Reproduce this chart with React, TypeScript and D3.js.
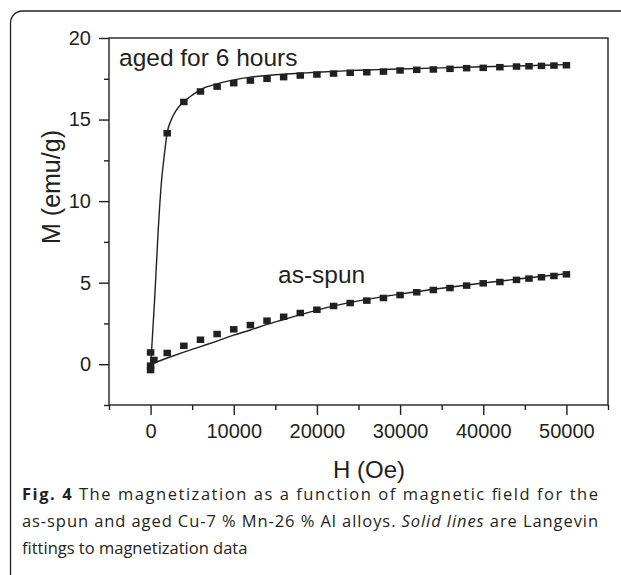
import React, { useEffect, useRef } from "react";
import * as d3 from "d3";

// measured points, aged for 6 hours
const agedH = [0, 2000, 4000, 6000, 8000, 10000, 12000, 14000, 16000, 18000, 20000, 22000, 24000, 26000, 28000, 30000, 32000, 34000, 36000, 38000, 40000, 42000, 44000, 45500, 47000, 48500, 50000];
const agedM = [0.72, 14.16, 16.08, 16.72, 17.02, 17.23, 17.39, 17.5, 17.6, 17.7, 17.76, 17.82, 17.87, 17.9, 17.94, 18.01, 18.05, 18.07, 18.11, 18.15, 18.17, 18.21, 18.25, 18.27, 18.29, 18.31, 18.33];

// measured points, as-spun
const spunH = [0, 0, 400, 2000, 4000, 6000, 8000, 10000, 12000, 14000, 16000, 18000, 20000, 22000, 24000, 26000, 28000, 30000, 32000, 34000, 36000, 38000, 40000, 42000, 44000, 45500, 47000, 48500, 50000];
const spunM = [-0.09, -0.36, 0.26, 0.69, 1.13, 1.5, 1.85, 2.14, 2.4, 2.67, 2.91, 3.14, 3.34, 3.57, 3.75, 3.9, 4.06, 4.24, 4.41, 4.55, 4.67, 4.82, 4.96, 5.04, 5.17, 5.25, 5.33, 5.41, 5.51];

// Langevin fit curves
const agedFitH = [0, 120, 500, 915, 1320, 1600, 2000, 2500, 3000, 3500, 4000, 5000, 6000, 8000, 10000, 12000, 14000, 16000, 18000, 20000, 24000, 30000, 35000, 40000, 45000, 50000];
const agedFitM = [0, 0.83, 4.1, 8.19, 11.26, 12.6, 14.2, 15.0, 15.5, 15.85, 16.1, 16.5, 16.84, 17.19, 17.43, 17.6, 17.7, 17.78, 17.84, 17.9, 18.0, 18.1, 18.17, 18.24, 18.3, 18.37];
const spunFitH = [0, 2000, 4000, 6000, 8000, 10000, 12000, 14000, 16000, 18000, 20000, 25000, 30000, 35000, 40000, 45000, 50000];
const spunFitM = [0, 0.38, 0.74, 1.08, 1.42, 1.78, 2.1, 2.44, 2.74, 3.04, 3.32, 3.88, 4.3, 4.66, 4.98, 5.27, 5.55];

const xMajor = [0, 10000, 20000, 30000, 40000, 50000];
const xMinor = [-5000, 5000, 15000, 25000, 35000, 45000, 55000];
const yMajor = [0, 5, 10, 15, 20];
const yMinor = [-2.5, 2.5, 7.5, 12.5, 17.5];

const ink = "#231f20";
const font = "'Liberation Sans', Arial, sans-serif";

const App = () => {
  const ref = useRef<SVGSVGElement>(null);

  useEffect(() => {
    const svg = d3.select(ref.current);
    svg.selectAll("*").remove();

    const left = 109;
    const right = 608;
    const top = 38;
    const bottom = 405;

    const x = d3.scaleLinear().domain([-5000, 55000]).range([left, right]);
    const y = d3.scaleLinear().domain([-2.5, 20]).range([bottom, top]);

    // outer figure frame
    svg
      .append("rect")
      .attr("x", 10.5)
      .attr("y", 11)
      .attr("width", 660)
      .attr("height", 600)
      .attr("rx", 12)
      .attr("fill", "none")
      .attr("stroke", ink)
      .attr("stroke-width", 1.3);

    // plot box
    svg
      .append("rect")
      .attr("x", left)
      .attr("y", top)
      .attr("width", right - left)
      .attr("height", bottom - top)
      .attr("fill", "none")
      .attr("stroke", ink)
      .attr("stroke-width", 1.4);

    const styleAxis = (g: any) => {
      g.select(".domain").remove();
      g.selectAll("line").attr("stroke", ink).attr("stroke-width", 1.4);
      g.selectAll("text")
        .attr("fill", ink)
        .style("font-family", font)
        .style("font-size", "20px");
    };

    svg
      .append("g")
      .attr("transform", `translate(0,${bottom})`)
      .call(d3.axisBottom(x).tickValues(xMajor).tickSize(10).tickPadding(9).tickFormat(d3.format("d")))
      .call(styleAxis);
    svg
      .append("g")
      .attr("transform", `translate(0,${bottom})`)
      .call(d3.axisBottom(x).tickValues(xMinor).tickSize(5).tickFormat(() => ""))
      .call(styleAxis);
    svg
      .append("g")
      .attr("transform", `translate(${left},0)`)
      .call(d3.axisLeft(y).tickValues(yMajor).tickSize(10).tickPadding(8).tickFormat(d3.format("d")))
      .call(styleAxis);
    svg
      .append("g")
      .attr("transform", `translate(${left},0)`)
      .call(d3.axisLeft(y).tickValues(yMinor).tickSize(5).tickFormat(() => ""))
      .call(styleAxis);

    // axis titles
    svg
      .append("text")
      .attr("x", 369)
      .attr("y", 478)
      .attr("text-anchor", "middle")
      .attr("fill", ink)
      .style("font-family", font)
      .style("font-size", "24px")
      .text("H (Oe)");
    svg
      .append("text")
      .attr("transform", "translate(60,187) rotate(-90)")
      .attr("text-anchor", "middle")
      .attr("fill", ink)
      .style("font-family", font)
      .style("font-size", "25px")
      .text("M (emu/g)");

    // fit lines
    const line = d3
      .line<[number, number]>()
      .x((d) => x(d[0]))
      .y((d) => y(d[1]))
      .curve(d3.curveMonotoneX);

    const fits = [
      agedFitH.map((h, i) => [h, agedFitM[i]] as [number, number]),
      spunFitH.map((h, i) => [h, spunFitM[i]] as [number, number]),
    ];
    svg
      .selectAll(".fit")
      .data(fits)
      .enter()
      .append("path")
      .attr("d", (d) => line(d))
      .attr("fill", "none")
      .attr("stroke", ink)
      .attr("stroke-width", 1.4);

    // square markers
    const pts = [
      ...agedH.map((h, i) => [h, agedM[i]]),
      ...spunH.map((h, i) => [h, spunM[i]]),
    ];
    const w = 7.5;
    const hgt = 6.5;
    svg
      .selectAll(".pt")
      .data(pts)
      .enter()
      .append("rect")
      .attr("x", (d) => x(d[0]) - w / 2)
      .attr("y", (d) => y(d[1]) - hgt / 2)
      .attr("width", w)
      .attr("height", hgt)
      .attr("fill", ink);

    // annotations
    svg
      .append("text")
      .attr("x", 119)
      .attr("y", 65.5)
      .attr("fill", ink)
      .style("font-family", font)
      .style("font-size", "24.5px")
      .text("aged for 6 hours");
    svg
      .append("text")
      .attr("x", 278)
      .attr("y", 283)
      .attr("fill", ink)
      .style("font-family", font)
      .style("font-size", "24.5px")
      .text("as-spun");

    // caption
    const cap = svg
      .append("g")
      .attr("fill", ink)
      .style("font-family", "'Open Sans', 'Noto Sans', sans-serif")
      .style("font-size", "16.5px");
    const l1 = cap.append("text").attr("x", 22).attr("y", 500).attr("textLength", 576).attr("lengthAdjust", "spacing");
    l1.append("tspan").attr("font-weight", "bold").text("Fig. 4");
    l1.append("tspan").text(" The magnetization as a function of magnetic field for the");
    const l2 = cap.append("text").attr("x", 22).attr("y", 527).attr("textLength", 576).attr("lengthAdjust", "spacing");
    l2.append("tspan").text("as-spun and aged Cu-7 % Mn-26 % Al alloys. ");
    l2.append("tspan").attr("font-style", "italic").text("Solid lines");
    l2.append("tspan").text(" are Langevin");
    cap.append("text").attr("x", 22).attr("y", 554).text("fittings to magnetization data");
  });

  return (
    <svg
      ref={ref}
      width={621}
      height={575}
      style={{ position: "absolute", left: 0, top: 0, background: "#fff" }}
    />
  );
};

export default App;
